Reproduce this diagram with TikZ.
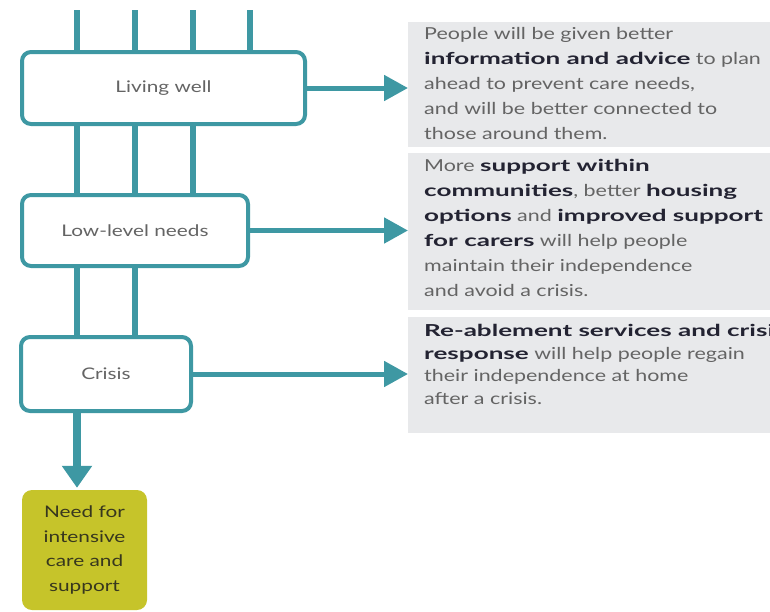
\documentclass[tikz,border=0pt]{standalone}
\usepackage{fontspec}
\setmainfont{Lato}[FakeStretch=1.3]
\newfontfamily\bfst{Lato}[FakeStretch=1.58]
\usetikzlibrary{arrows.meta}
\definecolor{tealc}{RGB}{62,152,163}
\definecolor{graybox}{RGB}{232,233,235}
\definecolor{txtc}{RGB}{100,100,100}
\definecolor{boldc}{RGB}{35,35,50}
\definecolor{olivec}{RGB}{198,196,42}
\definecolor{olivetxt}{RGB}{55,55,30}
\newcommand{\hl}[1]{\textcolor{boldc}{\bfst\bfseries #1}}
\begin{document}
\begin{tikzpicture}[x=1pt,y=-1pt,
  stage/.style={draw=tealc, line width=4pt, rounded corners=9pt, fill=white,
    inner sep=0pt, text=txtc, font=\fontsize{16}{20}\selectfont},
  infobox/.style={fill=graybox, inner sep=0pt, anchor=north west},
  infotext/.style={anchor=north west, inner sep=0pt, align=left, text=txtc},
  vline/.style={draw=tealc, line width=6.5pt},
  harrow/.style={draw=tealc, line width=5pt, -{Triangle[length=24pt,width=25pt]}},
  darrow/.style={draw=tealc, line width=8pt, -{Triangle[length=22pt,width=29pt]}},
  needbox/.style={fill=olivec, rounded corners=10pt, inner sep=0pt, text=olivetxt,
    align=center, font=\fontsize{16}{24.5}\selectfont}
]
\useasboundingbox (0,0) rectangle (770,611);
\clip (0,0) rectangle (770,611);

% stage boxes
\node[stage, minimum width=283pt, minimum height=72pt] (lw) at (163.5,88) {Living well};
\node[stage, minimum width=226pt, minimum height=71pt] (ll) at (135,230.5) {Low-level needs};
\node[stage, minimum width=170pt, minimum height=74pt] (cr) at (106,374) {Crisis};
\node[needbox, minimum width=125pt, minimum height=120pt] (need) at (84.5,550)
  {Need for\\intensive\\care and\\support};

% grey info boxes
\node[infobox, minimum width=380pt, minimum height=125pt] (i1) at (408,22) {};
\node[infobox, minimum width=380pt, minimum height=157pt] (i2) at (408,153) {};
\node[infobox, minimum width=380pt, minimum height=116pt] (i3) at (408,317) {};

\node[infotext, font=\fontsize{16.5}{25}\selectfont] (t1) at (424,27)
  {People will be given better\\
   \hl{information and advice} to plan\\
   ahead to prevent care needs,\\
   and will be better connected to\\
   those around them.};
\node[infotext, font=\fontsize{16.5}{25}\selectfont] (t2) at (424,159)
  {More \hl{support within}\\
   \hl{communities}, better \hl{housing}\\
   \hl{options} and \hl{improved support}\\
   \hl{for carers} will help people\\
   maintain their independence\\
   and avoid a crisis.};
\node[infotext, font=\fontsize{16.5}{22.7}\selectfont] (t3) at (424,324)
  {\hl{Re-ablement services and crisis}\\
   \hl{response} will help people regain\\
   their independence at home\\
   after a crisis.};

% top free ends
\coordinate (c1) at (77,10);
\coordinate (c2) at (135,10);
\coordinate (c3) at (193,10);
\coordinate (c4) at (250,10);
\coordinate (d1) at (77,0);

\foreach \c in {c1,c2,c3,c4} \draw[vline] (\c) -- (lw.north -| \c);
\foreach \c in {c1,c2,c3} \draw[vline] (lw.south -| \c) -- (ll.north -| \c);
\foreach \c in {c1,c2} \draw[vline] (ll.south -| \c) -- (cr.north -| \c);

% horizontal arrows
\draw[harrow] (lw.east) -- (i1.west |- lw.east);
\draw[harrow] (ll.east) -- (i2.west |- ll.east);
\draw[harrow] (cr.east) -- (i3.west |- cr.east);

% down arrow
\draw[darrow] (cr.south -| d1) -- ([yshift=2pt]need.north -| d1);
\end{tikzpicture}
\end{document}
